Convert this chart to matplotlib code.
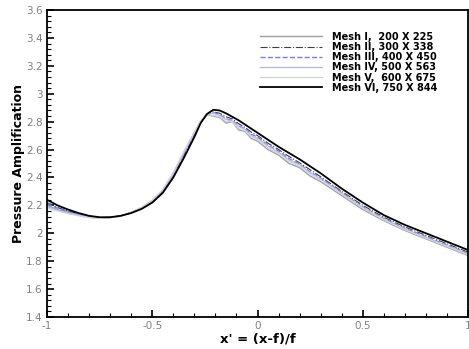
import matplotlib
matplotlib.use('Agg')
import matplotlib.pyplot as plt
from matplotlib.ticker import MultipleLocator

x = [-1.0, -0.95, -0.9, -0.85, -0.8, -0.75, -0.7, -0.65, -0.6, -0.55, -0.5, -0.45, -0.4,
     -0.35, -0.3, -0.27, -0.24, -0.21, -0.18, -0.15, -0.12, -0.09, -0.06, -0.03, 0.0,
     0.05, 0.1, 0.15, 0.2, 0.25, 0.3, 0.4, 0.5, 0.6, 0.7, 0.8, 0.9, 1.0]

mesh1 = [2.20, 2.17, 2.15, 2.13, 2.115, 2.11, 2.115, 2.125, 2.15, 2.185, 2.235, 2.31, 2.43,
         2.58, 2.72, 2.80, 2.85, 2.84, 2.83, 2.79, 2.80, 2.74, 2.73, 2.68, 2.66,
         2.60, 2.56, 2.50, 2.47, 2.41, 2.37, 2.27, 2.17, 2.09, 2.02, 1.96, 1.90, 1.84]
mesh2 = [2.22, 2.185, 2.16, 2.14, 2.12, 2.112, 2.114, 2.125, 2.148, 2.18, 2.228, 2.30, 2.41,
         2.56, 2.71, 2.80, 2.855, 2.87, 2.86, 2.835, 2.82, 2.785, 2.76, 2.725, 2.70,
         2.645, 2.60, 2.55, 2.505, 2.455, 2.405, 2.30, 2.20, 2.115, 2.045, 1.985, 1.925, 1.865]
mesh3 = [2.21, 2.18, 2.155, 2.135, 2.118, 2.11, 2.113, 2.124, 2.147, 2.18, 2.23, 2.305, 2.42,
         2.57, 2.715, 2.80, 2.85, 2.865, 2.85, 2.82, 2.81, 2.77, 2.75, 2.71, 2.69,
         2.63, 2.59, 2.535, 2.495, 2.44, 2.395, 2.29, 2.19, 2.105, 2.035, 1.975, 1.915, 1.855]
mesh4 = [2.19, 2.165, 2.145, 2.13, 2.115, 2.108, 2.112, 2.123, 2.148, 2.183, 2.232, 2.308, 2.425,
         2.575, 2.72, 2.805, 2.855, 2.86, 2.845, 2.815, 2.805, 2.765, 2.745, 2.70, 2.68,
         2.625, 2.58, 2.525, 2.49, 2.435, 2.39, 2.285, 2.185, 2.10, 2.03, 1.97, 1.91, 1.85]
mesh5 = [2.18, 2.16, 2.14, 2.125, 2.112, 2.107, 2.111, 2.123, 2.15, 2.186, 2.236, 2.315, 2.435,
         2.585, 2.725, 2.805, 2.85, 2.845, 2.835, 2.80, 2.80, 2.75, 2.735, 2.69, 2.67,
         2.61, 2.57, 2.515, 2.48, 2.425, 2.38, 2.28, 2.18, 2.095, 2.025, 1.965, 1.905, 1.845]
mesh6 = [2.24, 2.20, 2.17, 2.145, 2.125, 2.115, 2.115, 2.125, 2.145, 2.175, 2.22, 2.29, 2.40,
         2.54, 2.69, 2.79, 2.855, 2.885, 2.88, 2.86, 2.835, 2.81, 2.78, 2.75, 2.72,
         2.67, 2.62, 2.575, 2.53, 2.48, 2.43, 2.32, 2.22, 2.13, 2.06, 2.00, 1.94, 1.88]

labels = ['Mesh I,  200 X 225', 'Mesh II, 300 X 338', 'Mesh III, 400 X 450',
          'Mesh IV, 500 X 563', 'Mesh V,  600 X 675', 'Mesh VI, 750 X 844']

fig = plt.figure(figsize=(4.69, 3.49), dpi=100)
ax = fig.add_axes([0.1002, 0.0917, 0.8978, 0.8796])

ax.plot(x, mesh1, color='#a0a0a0', lw=1.0, ls='-', label=labels[0])
ax.plot(x, mesh2, color='#404040', lw=0.8, ls='-.', label=labels[1])
ax.plot(x, mesh3, color='#7a7ae6', lw=1.0, ls='--', label=labels[2])
ax.plot(x, mesh4, color='#b4b4f4', lw=0.9, ls='-', label=labels[3])
ax.plot(x, mesh5, color='#d4d4d4', lw=0.9, ls='-', label=labels[4])
ax.plot(x, mesh6, color='black', lw=1.3, ls='-', label=labels[5])

ax.set_xlim(-1, 1)
ax.set_ylim(1.4, 3.6)
ax.xaxis.set_major_locator(MultipleLocator(0.5))
ax.xaxis.set_minor_locator(MultipleLocator(0.1))
ax.yaxis.set_major_locator(MultipleLocator(0.2))
ax.yaxis.set_minor_locator(MultipleLocator(0.04))
ax.set_xticks([-1, -0.5, 0, 0.5, 1])
ax.set_xticklabels(['-1', '-0.5', '0', '0.5', '1'])
ax.set_yticks([1.4, 1.6, 1.8, 2.0, 2.2, 2.4, 2.6, 2.8, 3.0, 3.2, 3.4, 3.6])
ax.set_yticklabels(['1.4', '1.6', '1.8', '2', '2.2', '2.4', '2.6', '2.8', '3', '3.2', '3.4', '3.6'])
ax.tick_params(which='major', direction='in', length=5, width=1.2, labelsize=7.5,
               labelcolor='#808080', pad=3)
ax.tick_params(which='minor', direction='in', length=3, width=0.8)
ax.tick_params(top=False, right=False, which='both')
for s in ax.spines.values():
    s.set_linewidth(1.3)

ax.set_xlabel("x' = (x-f)/f", fontsize=9.5, fontweight='bold', labelpad=1)
ax.set_ylabel('Pressure Amplification', fontsize=9, fontweight='bold', labelpad=1)

ax.legend(loc='upper left', bbox_to_anchor=(0.494, 0.945), frameon=False, borderpad=0,
          prop={'weight': 'bold', 'size': 7}, handlelength=6.4, labelspacing=0.02,
          handletextpad=1.0)

plt.savefig('out.png', dpi=100)
